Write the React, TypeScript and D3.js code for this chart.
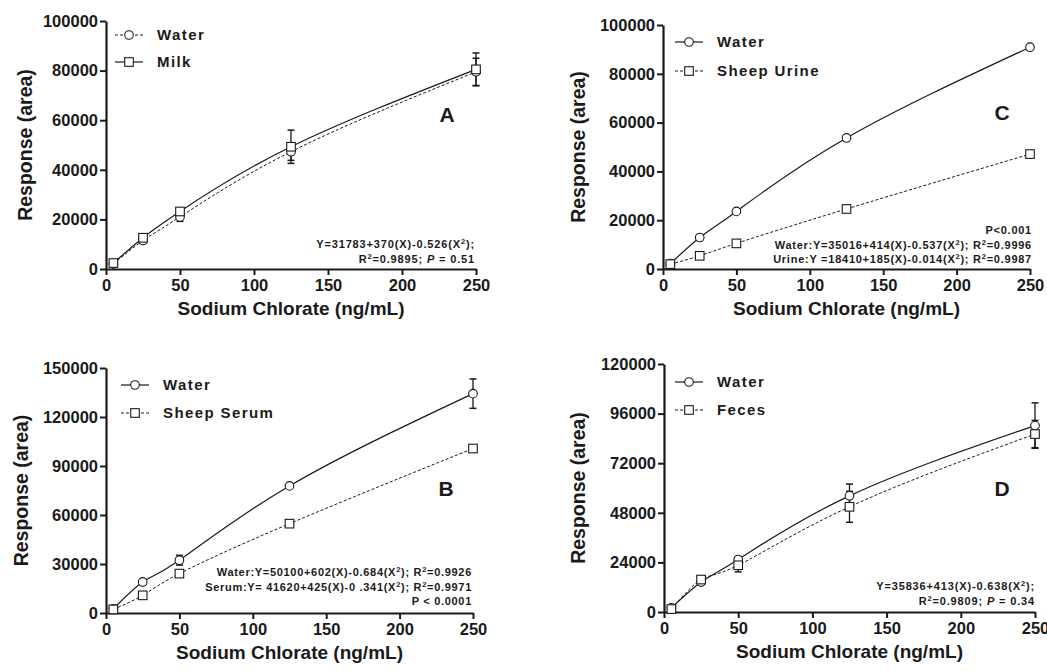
import React, { useRef, useEffect } from "react";
import * as d3 from "d3";

// concentrations (ng/mL)
const conc = [5, 25, 50, 125, 250];

// Panel A: water vs milk
const waterA = [2100, 11500, 21000, 47300, 79500];
const waterAErr = [500, 800, 1800, 3500, 5500];
const milkA = [2400, 12600, 23200, 49300, 80500];
const milkAErr = [500, 700, 900, 6700, 6600];

// Panel C: water vs sheep urine
const waterC = [2200, 12900, 23600, 53700, 90900];
const waterCErr = [0, 0, 0, 0, 0];
const urineC = [2000, 5400, 10500, 24600, 47100];
const urineCErr = [0, 0, 0, 0, 0];

// Panel B: water vs sheep serum
const waterB = [2600, 19000, 32300, 77800, 134300];
const waterBErr = [300, 600, 3000, 600, 9000];
const serumB = [2200, 10800, 24100, 54700, 100700];
const serumBErr = [300, 600, 600, 600, 600];

// Panel D: water vs feces
const waterD = [2000, 14500, 25400, 56200, 90200];
const waterDErr = [500, 700, 1000, 5700, 11000];
const fecesD = [1400, 15700, 22600, 50900, 86100];
const fecesDErr = [500, 1200, 3200, 7500, 6600];

const xTicks = [0, 50, 100, 150, 200, 250];
const yTicksA = [0, 20000, 40000, 60000, 80000, 100000];
const yTicksC = [0, 20000, 40000, 60000, 80000, 100000];
const yTicksB = [0, 30000, 60000, 90000, 120000, 150000];
const yTicksD = [0, 24000, 48000, 72000, 96000, 120000];

const FONT = "'Liberation Sans', Arial, sans-serif";
const INK = "#1a1a1a";

const App = () => {
  const svgRef = useRef(null);

  useEffect(() => {
    const svg = d3.select(svgRef.current);
    svg.selectAll("*").remove();

    const panels = [
      {
        letter: "A",
        box: { left: 106, right: 476, top: 21, bottom: 269 },
        yTicks: yTicksA,
        yTitleX: 25,
        series: [
          { name: "Water", values: waterA, err: waterAErr, dashed: true, marker: "circle" },
          { name: "Milk", values: milkA, err: milkAErr, dashed: false, marker: "square" },
        ],
        legend: { x: 115, y: 35, gap: 27 },
        letterPos: [447, 122],
        notes: [
          { parts: [["Y=31783+370(X)-0.526(X", ""], ["2", "sup"], [");", ""]] },
          { parts: [["R", ""], ["2", "sup"], ["=0.9895; ", ""], ["P", "i"], [" = 0.51", ""]] },
        ],
        notesPos: [475, 248],
        noteSpacing: 0.85,
      },
      {
        letter: "C",
        box: { left: 663, right: 1030, top: 25, bottom: 269 },
        yTicks: yTicksC,
        yTitleX: 578,
        series: [
          { name: "Water", values: waterC, err: waterCErr, dashed: false, marker: "circle" },
          { name: "Sheep Urine", values: urineC, err: urineCErr, dashed: true, marker: "square" },
        ],
        legend: { x: 675, y: 42, gap: 29 },
        letterPos: [1002, 120],
        notes: [
          { parts: [["P<0.001", ""]] },
          { parts: [["Water:Y=35016+414(X)-0.537(X", ""], ["2", "sup"], ["); R", ""], ["2", "sup"], ["=0.9996", ""]] },
          { parts: [["Urine:Y =18410+185(X)-0.014(X", ""], ["2", "sup"], ["); R", ""], ["2", "sup"], ["=0.9987", ""]] },
        ],
        notesPos: [1032, 234],
        noteSpacing: 0.75,
      },
      {
        letter: "B",
        box: { left: 106, right: 473, top: 368, bottom: 613 },
        yTicks: yTicksB,
        yTitleX: 21,
        series: [
          { name: "Water", values: waterB, err: waterBErr, dashed: false, marker: "circle" },
          { name: "Sheep Serum", values: serumB, err: serumBErr, dashed: true, marker: "square" },
        ],
        legend: { x: 121, y: 385, gap: 28 },
        letterPos: [446, 496],
        notes: [
          { parts: [["Water:Y=50100+602(X)-0.684(X", ""], ["2", "sup"], ["); R", ""], ["2", "sup"], ["=0.9926", ""]] },
          { parts: [["Serum:Y= 41620+425(X)-0 .341(X", ""], ["2", "sup"], ["); R", ""], ["2", "sup"], ["=0.9971", ""]] },
          { parts: [["P < 0.0001", ""]] },
        ],
        notesPos: [472, 576],
        noteSpacing: 0.7,
      },
      {
        letter: "D",
        box: { left: 664, right: 1035, top: 364, bottom: 612 },
        yTicks: yTicksD,
        yTitleX: 578,
        series: [
          { name: "Water", values: waterD, err: waterDErr, dashed: false, marker: "circle" },
          { name: "Feces", values: fecesD, err: fecesDErr, dashed: true, marker: "square" },
        ],
        legend: { x: 675, y: 382, gap: 28 },
        letterPos: [1002, 496],
        notes: [
          { parts: [["Y=35836+413(X)-0.638(X", ""], ["2", "sup"], [");", ""]] },
          { parts: [["R", ""], ["2", "sup"], ["=0.9809; ", ""], ["P", "i"], [" = 0.34", ""]] },
        ],
        notesPos: [1035, 590],
        noteSpacing: 0.85,
      },
    ];

    const drawMarker = (g, kind, cx, cy) => {
      if (kind === "circle") {
        g.append("circle")
          .attr("cx", cx)
          .attr("cy", cy)
          .attr("r", 4.3)
          .attr("fill", "white")
          .attr("stroke", INK)
          .attr("stroke-width", 1.1);
      } else {
        g.append("rect")
          .attr("x", cx - 4.3)
          .attr("y", cy - 4.3)
          .attr("width", 8.6)
          .attr("height", 8.6)
          .attr("fill", "white")
          .attr("stroke", INK)
          .attr("stroke-width", 1.1);
      }
    };

    panels.forEach((p) => {
      const { left, right, top, bottom } = p.box;
      const x = d3.scaleLinear().domain([0, 250]).range([left, right]);
      const yMax = p.yTicks[p.yTicks.length - 1];
      const y = d3.scaleLinear().domain([0, yMax]).range([bottom, top]);
      const g = svg.append("g");

      // x axis
      const xAxis = g
        .append("g")
        .attr("transform", "translate(0," + bottom + ")")
        .call(d3.axisBottom(x).tickValues(xTicks).tickSize(6).tickPadding(4).tickSizeOuter(0));
      // y axis
      const yAxis = g
        .append("g")
        .attr("transform", "translate(" + left + ",0)")
        .call(
          d3.axisLeft(y).tickValues(p.yTicks).tickSize(6).tickPadding(2).tickSizeOuter(0).tickFormat(d3.format("d"))
        );
      [xAxis, yAxis].forEach((a) => {
        a.select(".domain").attr("stroke", INK).attr("stroke-width", 2.2);
        a.selectAll(".tick line").attr("stroke", INK).attr("stroke-width", 2);
        a.selectAll(".tick text")
          .attr("fill", INK)
          .style("font-family", FONT)
          .style("font-weight", "bold")
          .style("font-size", "16.5px");
      });

      // axis titles
      g.append("text")
        .attr("x", (left + right) / 2)
        .attr("y", bottom + 46)
        .attr("text-anchor", "middle")
        .attr("fill", INK)
        .style("font-family", FONT)
        .style("font-weight", "bold")
        .style("font-size", "19px")
        .text("Sodium Chlorate (ng/mL)");
      g.append("text")
        .attr("transform", "translate(" + p.yTitleX + "," + (top + bottom) / 2 + ") rotate(-90)")
        .attr("text-anchor", "middle")
        .attr("dy", "0.35em")
        .attr("fill", INK)
        .style("font-family", FONT)
        .style("font-weight", "bold")
        .style("font-size", "19.5px")
        .text("Response (area)");

      // smooth curves through the points
      p.series.forEach((s) => {
        const line = d3
          .line()
          .x((d) => x(d[0]))
          .y((d) => y(d[1]))
          .curve(d3.curveNatural);
        const pts = conc.map((c, i) => [c, s.values[i]]);
        g.append("path")
          .attr("d", line(pts))
          .attr("fill", "none")
          .attr("stroke", INK)
          .attr("stroke-width", s.dashed ? 1 : 1.2)
          .attr("stroke-dasharray", s.dashed ? "3,2" : null);
      });

      // error bars
      p.series.forEach((s) => {
        conc.forEach((c, i) => {
          const e = s.err[i];
          if (!e) return;
          const cx = x(c);
          const y1 = y(s.values[i] + e);
          const y2 = y(s.values[i] - e);
          g.append("line").attr("x1", cx).attr("x2", cx).attr("y1", y1).attr("y2", y2).attr("stroke", INK).attr("stroke-width", 1.3);
          [y1, y2].forEach((yy) =>
            g.append("line").attr("x1", cx - 3.5).attr("x2", cx + 3.5).attr("y1", yy).attr("y2", yy).attr("stroke", INK).attr("stroke-width", 1.5)
          );
        });
      });

      // markers
      p.series.forEach((s) => {
        conc.forEach((c, i) => drawMarker(g, s.marker, x(c), y(s.values[i])));
      });

      // legend
      p.series.forEach((s, i) => {
        const ly = p.legend.y + i * p.legend.gap;
        g.append("line")
          .attr("x1", p.legend.x)
          .attr("x2", p.legend.x + 28)
          .attr("y1", ly)
          .attr("y2", ly)
          .attr("stroke", INK)
          .attr("stroke-width", s.dashed ? 1 : 1.2)
          .attr("stroke-dasharray", s.dashed ? "3,2" : null);
        drawMarker(g, s.marker, p.legend.x + 14, ly);
        g.append("text")
          .attr("x", p.legend.x + 42)
          .attr("y", ly)
          .attr("dy", "0.35em")
          .attr("fill", INK)
          .style("font-family", FONT)
          .style("font-weight", "bold")
          .style("font-size", "15px")
          .style("letter-spacing", "1.4px")
          .text(s.name);
      });

      // panel letter
      g.append("text")
        .attr("x", p.letterPos[0])
        .attr("y", p.letterPos[1])
        .attr("text-anchor", "middle")
        .attr("fill", INK)
        .style("font-family", FONT)
        .style("font-weight", "bold")
        .style("font-size", "21px")
        .text(p.letter);

      // equations
      p.notes.forEach((n, i) => {
        const t = g
          .append("text")
          .attr("x", p.notesPos[0])
          .attr("y", p.notesPos[1] + i * 14.5)
          .attr("text-anchor", "end")
          .attr("fill", INK)
          .style("font-family", FONT)
          .style("font-weight", "bold")
          .style("font-size", "11px")
          .style("letter-spacing", p.noteSpacing + "px");
        n.parts.forEach(([txt, kind]) => {
          const ts = t.append("tspan").text(txt);
          if (kind === "sup") ts.attr("baseline-shift", "super").style("font-size", "7.5px");
          if (kind === "i") ts.style("font-style", "italic");
        });
      });
    });
  }, []);

  return (
    <svg
      ref={svgRef}
      width={1047}
      height={671}
      style={{ position: "absolute", left: 0, top: 0, background: "white" }}
    />
  );
};

export default App;
